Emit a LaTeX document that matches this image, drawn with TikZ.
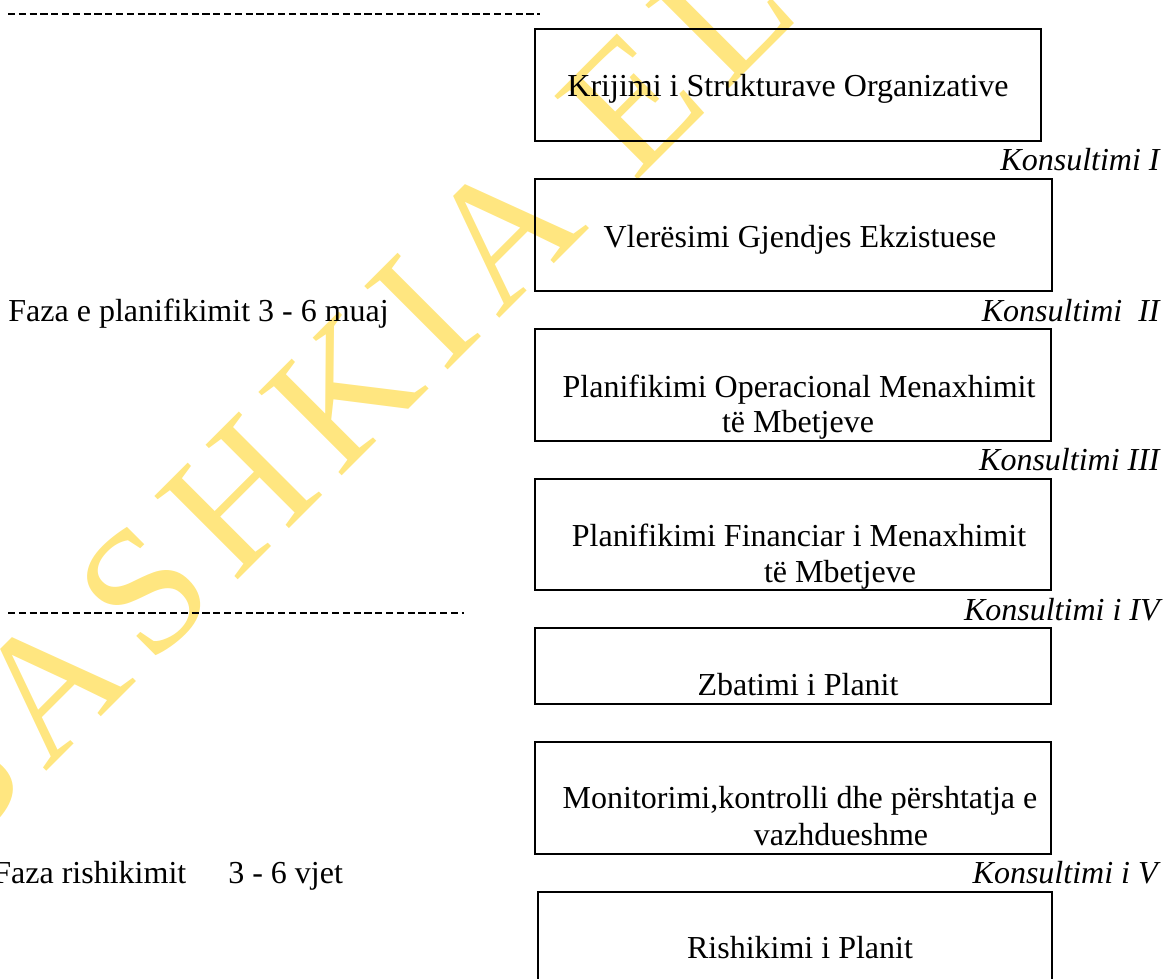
\documentclass[tikz,border=0pt]{standalone}
\usepackage{fontspec}
\setmainfont{Liberation Serif}
\newfontfamily\wmfont[LetterSpace=10]{Liberation Serif}
\definecolor{wmyellow}{RGB}{255,230,128}
\begin{document}
\begin{tikzpicture}[x=0.5pt,y=-0.5pt,
  box/.style={draw=black, line width=1pt, inner sep=0pt, outer sep=0pt, anchor=north west},
  lbl/.style={font=\fontsize{16pt}{19pt}\selectfont, inner sep=0pt, anchor=base},
  kons/.style={font=\fontsize{16pt}{19pt}\selectfont\itshape, inner sep=0pt, anchor=base east},
  dashsep/.style={line width=1pt, dash pattern=on 3.6pt off 1.8pt},
  wmark/.style={font=\wmfont\fontsize{90pt}{100pt}\selectfont, text=wmyellow, inner sep=0pt, anchor=base west, rotate=45}]
\useasboundingbox (0,0) rectangle (1172,979);
\clip (0,0) rectangle (1172,979);
% watermark
\node[wmark] (wm) at (-52,870) {BASHKIA ELBASAN};
% dashed separators
\coordinate (d1a) at (8,14);
\coordinate (d1b) at (540,14);
\coordinate (d2a) at (8,613);
\coordinate (d2b) at (464,613);
\draw[dashsep] (d1a) -- (d1b);
\draw[dashsep] (d2a) -- (d2b);
% boxes
\node[box, minimum width=253pt, minimum height=56pt] (b1) at (535,29) {};
\node[box, minimum width=258.5pt, minimum height=56pt] (b2) at (535,179) {};
\node[box, minimum width=258pt, minimum height=56pt] (b3) at (535,329) {};
\node[box, minimum width=258pt, minimum height=55.5pt] (b4) at (535,479) {};
\node[box, minimum width=258pt, minimum height=38pt] (b5) at (535,628) {};
\node[box, minimum width=258pt, minimum height=56pt] (b6) at (535,742) {};
\node[box, minimum width=257pt, minimum height=56pt] (b7) at (538,892) {};
% box texts
\node[lbl] (t1) at (788,97) {Krijimi i Strukturave Organizative};
\node[lbl] (t2) at (800,247) {Vlerësimi Gjendjes Ekzistuese};
\node[lbl] (t3a) at (799,397) {Planifikimi Operacional Menaxhimit};
\node[lbl] (t3b) at (798,432) {të Mbetjeve};
\node[lbl] (t4a) at (799,546) {Planifikimi Financiar i Menaxhimit};
\node[lbl] (t4b) at (840,582) {të Mbetjeve};
\node[lbl] (t5) at (798,695) {Zbatimi i Planit};
\node[lbl] (t6a) at (800,808) {Monitorimi,kontrolli dhe përshtatja e};
\node[lbl] (t6b) at (841,845) {vazhdueshme};
\node[lbl] (t7) at (800,958) {Rishikimi i Planit};
% consultations
\node[kons] (k1) at (1160,170) {Konsultimi I};
\node[kons] (k2) at (1160,321) {Konsultimi\ \ II};
\node[kons] (k3) at (1160,470) {Konsultimi III};
\node[kons] (k4) at (1160,620) {Konsultimi i IV};
\node[kons] (k5) at (1158,883) {Konsultimi i V};
% phases
\node[lbl, anchor=base west] (f1) at (8,321) {Faza e planifikimit 3 - 6 muaj};
\node[lbl, anchor=base west] (f2) at (-7,883) {Faza rishikimit\hspace{21pt}3 - 6 vjet};
\end{tikzpicture}
\end{document}
